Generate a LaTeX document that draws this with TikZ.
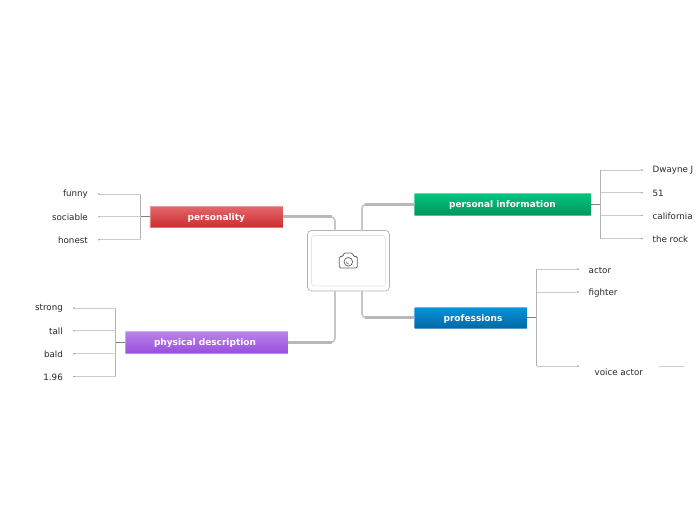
\documentclass[tikz,border=0pt]{standalone}
\usepackage{fontspec}
\setmainfont{DejaVu Sans}
\definecolor{gT}{RGB}{0,198,126}
\definecolor{gB}{RGB}{0,150,94}
\definecolor{bT}{RGB}{10,145,220}
\definecolor{bB}{RGB}{0,104,164}
\definecolor{rT}{RGB}{226,104,108}
\definecolor{rB}{RGB}{204,44,46}
\definecolor{pT}{RGB}{186,132,236}
\definecolor{pB}{RGB}{152,78,220}
\begin{document}
\begin{tikzpicture}[x=1pt,y=-1pt,
  topic/.style={draw=white,draw opacity=.35,line width=.5pt,minimum height=21.5pt,inner sep=0pt,text=white,font=\fontsize{9}{10}\selectfont\bfseries,anchor=west},
  topictext/.style={inner sep=0pt,text=white,font=\fontsize{9}{10}\selectfont\bfseries},
  leaf/.style={inner sep=0pt,text=black!85,font=\fontsize{8.7}{10}\selectfont},
  main/.style={line width=3pt,color=black!28},
  mainthin/.style={line width=1.7pt,color=black!22},
  stem/.style={line width=1.1pt,color=black!50},
  spine/.style={line width=1pt,color=black!30},
  twig/.style={line width=1pt,color=black!20},
  tip/.style={circle,fill=black!40,inner sep=0pt,minimum size=1.6pt}]
\useasboundingbox (0,0) rectangle (696,520);
\clip (0,0) rectangle (696,520);
% main connectors
\coordinate (cTR) at (362,231);
\coordinate (cBR) at (362,291);
\coordinate (cTL) at (335,231);
\coordinate (cBL) at (335,291);
\coordinate (kTR) at (362,204.3);
\coordinate (kBR) at (362,317.8);
\coordinate (kTL) at (335,216.8);
\coordinate (kBL) at (335,342.3);
% central box
\node[draw=black!30,line width=.7pt,rounded corners=4pt,fill=white,minimum width=82pt,minimum height=60.5pt,inner sep=0pt] (center) at (348.5,260.7) {};
\node[draw=black!10,line width=.7pt,rounded corners=3pt,minimum width=74pt,minimum height=50.5pt,inner sep=0pt] (inner) at (348.5,260.7) {};
% topics
\node[topic,top color=gT,bottom color=gB,minimum width=176.5pt] (info) at (414.3,204.3) {};
\node[topictext] at (502.5,205.3) {personal information};
\node[topic,top color=bT,bottom color=bB,minimum width=112.5pt] (prof) at (414.3,317.8) {};
\node[topictext] at (473,318.8) {professions};
\node[topic,top color=rT,bottom color=rB,minimum width=133pt] (pers) at (149.7,216.8) {};
\node[topictext] at (216.3,217.8) {personality};
\node[topic,top color=pT,bottom color=pB,minimum width=162.5pt] (phys) at (125.2,342.3) {};
\node[topictext] at (205,343.3) {physical description};
\draw[mainthin,rounded corners=4pt] (cTR) -- (kTR) -- (info.west);
\draw[mainthin,rounded corners=4pt] (cBR) -- (kBR) -- (prof.west);
\draw[mainthin,rounded corners=4pt] (cTL) -- (kTL) -- (pers.east);
\draw[mainthin,rounded corners=4pt] (cBL) -- (kBL) -- (phys.east);
\draw[main] (365,204.3) -- (info.west);
\draw[main] (365,317.8) -- (prof.west);
\draw[main] (332,216.8) -- (pers.east);
\draw[main] (332,342.3) -- (phys.east);
% camera icon
\draw[black!62,line width=.8pt,rounded corners=1.3pt] (339.3,268) -- (339.3,256.5) -- (343,256.5) -- (344,253) -- (352.5,253) -- (353.5,256.5) -- (357.3,256.5) -- (357.3,268) -- cycle;
\draw[black!62,line width=.7pt] (348.3,261.8) circle (4.3pt);
\draw[black!62,line width=.5pt] (346,261.5) arc (180:280:2.4pt);
% right: personal information
\node[leaf,anchor=west] (l1) at (652.5,170.5) {Dwayne J};
\node[leaf,anchor=west] (l2) at (652.5,193.5) {51};
\node[leaf,anchor=west] (l3) at (652.5,216.5) {california};
\node[leaf,anchor=west] (l4) at (652.5,239.5) {the rock};
\coordinate (j1) at (600.5,204.3);
\draw[stem] (info.east) -- (j1);
\draw[spine] (600.5,170) -- (600.5,238.5);
\foreach \y in {170,192.8,215.6,238.5}{
  \coordinate (e) at (642,\y);
  \draw[twig] (600.5,\y) -- (e);
  \node[tip] at (e) {};
}
% right: professions
\node[leaf,anchor=west] (p1) at (588.5,270.5) {actor};
\node[leaf,anchor=west] (p2) at (588.5,293.5) {fighter};
\node[leaf,anchor=west] (p3) at (594.5,372.5) {voice actor};
\coordinate (j2) at (536.5,317.8);
\draw[stem] (prof.east) -- (j2);
\draw[spine] (536.5,269) -- (536.5,366);
\foreach \y in {269,292,366}{
  \coordinate (e) at (578,\y);
  \draw[twig] (536.5,\y) -- (e);
  \node[tip] at (e) {};
}
\coordinate (v1) at (659,366);
\coordinate (v2) at (683.5,366);
\draw[twig] (v1) -- (v2);
% left: personality
\node[leaf,anchor=east] (f1) at (88,194.5) {funny};
\node[leaf,anchor=east] (f2) at (88,217.5) {sociable};
\node[leaf,anchor=east] (f3) at (88,240.5) {honest};
\coordinate (j3) at (140.5,216.8);
\draw[stem] (pers.west) -- (j3);
\draw[spine] (140.5,194) -- (140.5,239.7);
\foreach \y in {194,216.8,239.7}{
  \coordinate (e) at (99,\y);
  \draw[twig] (140.5,\y) -- (e);
  \node[tip] at (e) {};
}
% left: physical description
\node[leaf,anchor=east] (d1) at (63,308.5) {strong};
\node[leaf,anchor=east] (d2) at (63,331.5) {tall};
\node[leaf,anchor=east] (d3) at (63,354.5) {bald};
\node[leaf,anchor=east] (d4) at (63,377.5) {1.96};
\coordinate (j4) at (115.5,342.3);
\draw[stem] (phys.west) -- (j4);
\draw[spine] (115.5,308) -- (115.5,376.5);
\foreach \y in {308,330.8,353.7,376.5}{
  \coordinate (e) at (74,\y);
  \draw[twig] (115.5,\y) -- (e);
  \node[tip] at (e) {};
}
\end{tikzpicture}
\end{document}
